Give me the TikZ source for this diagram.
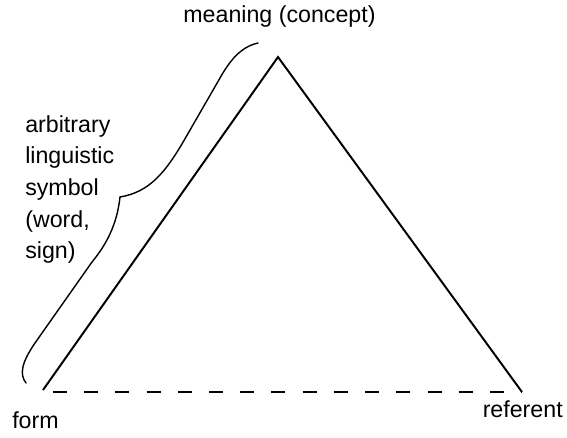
\documentclass[tikz,border=0pt]{standalone}
\usepackage{fontspec}
\setmainfont{Liberation Sans}

\begin{document}
\begin{tikzpicture}[x=0.025cm, y=-0.025cm,
    lbl/.style={font=\fontsize{16.5}{22.5}\selectfont, inner sep=0pt},
    side/.style={line width=1.4pt},
    baseline/.style={line width=1.1pt, dash pattern=on 0.35cm off 0.43cm, dash phase=0.53cm},
    bracestroke/.style={line width=1pt, line cap=round}]
    % Triangle of signification, coordinates in pixels (y grows down)
    %   apex (278,57), form corner (43,389), referent corner (522,392)
    %   brace along the left side, tip at (120,197)
    \useasboundingbox (0,0) rectangle (567,437);
    \coordinate (apex) at (278,57);
    \coordinate (formcorner) at (43,390);
    \coordinate (refcorner) at (522,392);
    \coordinate (bracetop) at (258,43);
    \coordinate (bracetip) at (120,197);
    \coordinate (bracebottom) at (26,383);
    \node[lbl, anchor=base] (meaning) at (279.5,22) {meaning (concept)};
    \node[lbl, anchor=base west] (form) at (12,428) {form};
    \node[lbl, anchor=base east] (referent) at (563,417) {referent};
    \node[lbl, anchor=north west, align=left] (symbol) at (25,115)
          {arbitrary\\linguistic\\symbol\\(word,\\sign)};
    \draw[side] (formcorner) -- (apex) -- (refcorner);
    \draw[baseline] (formcorner |- refcorner) -- (refcorner);
    % hand-drawn brace
    \draw[bracestroke] (bracetop) .. controls (240,47) and (229,62) .. (220,78)
          -- (186,137) .. controls (166,172) and (150,192) .. (bracetip);
    \draw[bracestroke] (bracetip) .. controls (117,225) and (106,245) .. (92,262)
          -- (35,343) .. controls (22,362) and (19,374) .. (bracebottom);
\end{tikzpicture}
\end{document}
